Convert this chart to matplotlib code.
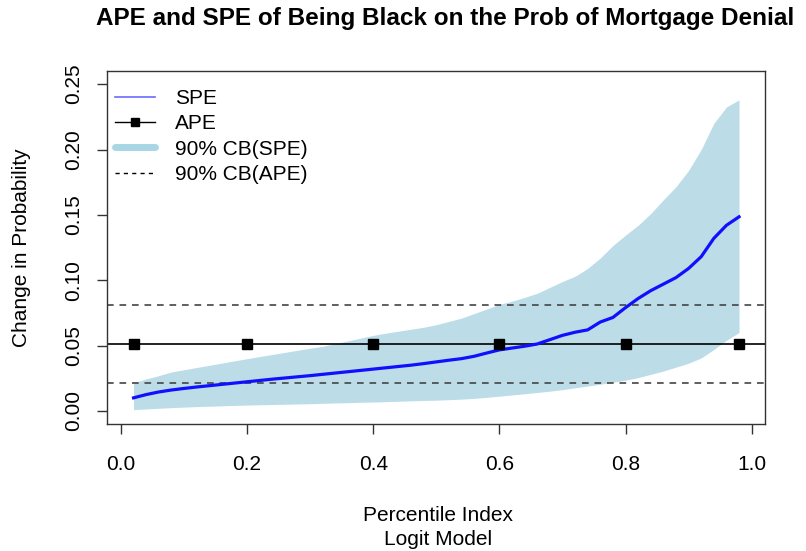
import matplotlib
matplotlib.use('Agg')
import matplotlib.pyplot as plt
from matplotlib.lines import Line2D
import numpy as np

plt.rcParams['font.family'] = ['Liberation Sans', 'DejaVu Sans']

# percentile index grid
pct = np.round(np.arange(0.02, 0.981, 0.02), 2)

spe = [0.0100, 0.0125, 0.0145, 0.0160, 0.0172, 0.0183, 0.0193, 0.0203, 0.0213, 0.0223,
       0.0233, 0.0243, 0.0252, 0.0261, 0.0270, 0.0280, 0.0290, 0.0300, 0.0310, 0.0320,
       0.0330, 0.0340, 0.0350, 0.0362, 0.0375, 0.0388, 0.0400, 0.0418, 0.0443, 0.0467,
       0.0481, 0.0495, 0.0512, 0.0545, 0.0578, 0.0602, 0.0620, 0.0680, 0.0715, 0.0790,
       0.0860, 0.0920, 0.0970, 0.1020, 0.1090, 0.1180, 0.1320, 0.1420, 0.1485]

spe_hi = [0.0215, 0.0245, 0.0270, 0.0298, 0.0315, 0.0332, 0.0349, 0.0366, 0.0383, 0.0400,
          0.0416, 0.0432, 0.0448, 0.0464, 0.0480, 0.0494, 0.0515, 0.0536, 0.0557, 0.0578,
          0.0595, 0.0610, 0.0625, 0.0640, 0.0660, 0.0685, 0.0710, 0.0745, 0.0780, 0.0815,
          0.0840, 0.0868, 0.0900, 0.0945, 0.0990, 0.1030, 0.1090, 0.1170, 0.1265, 0.1345,
          0.1420, 0.1510, 0.1615, 0.1715, 0.1840, 0.2000, 0.2200, 0.2325, 0.2380]

spe_lo = [0.0010, 0.0015, 0.0020, 0.0025, 0.0029, 0.0033, 0.0036, 0.0039, 0.0042, 0.0045,
          0.0047, 0.0049, 0.0051, 0.0053, 0.0055, 0.0058, 0.0061, 0.0063, 0.0066, 0.0068,
          0.0071, 0.0074, 0.0077, 0.0080, 0.0082, 0.0086, 0.0090, 0.0096, 0.0104, 0.0113,
          0.0122, 0.0131, 0.0141, 0.0151, 0.0163, 0.0177, 0.0190, 0.0204, 0.0219, 0.0235,
          0.0255, 0.0280, 0.0305, 0.0335, 0.0365, 0.0405, 0.0470, 0.0540, 0.0600]

ape_x = [0.02, 0.2, 0.4, 0.6, 0.8, 0.98]
ape = 0.051
ape_lo = 0.021
ape_hi = 0.081

fig = plt.figure(figsize=(8.06, 5.51), dpi=100)
ax = fig.add_axes([0.1328, 0.2305, 0.8162, 0.6405])

ax.fill_between(pct, spe_lo, spe_hi, color='#bcdde8', lw=0, zorder=1)
ax.axhline(ape, color='black', lw=1.2, zorder=2)
ax.plot(ape_x, [ape] * len(ape_x), 's', color='black', ms=7, zorder=4)
ax.axhline(ape_lo, color='#444444', lw=1.2, ls=(0, (4, 3.5)), zorder=2)
ax.axhline(ape_hi, color='#444444', lw=1.2, ls=(0, (4, 3.5)), zorder=2)
ax.plot(pct, spe, color='#1010ff', lw=2.3, zorder=3)

ax.set_xlim(-0.022, 1.021)
ax.set_ylim(-0.01, 0.26)
ax.set_xticks([0.0, 0.2, 0.4, 0.6, 0.8, 1.0])
ax.set_xticklabels(['0.0', '0.2', '0.4', '0.6', '0.8', '1.0'])
ax.set_yticks([0.0, 0.05, 0.10, 0.15, 0.20, 0.25])
ax.set_yticklabels(['0.00', '0.05', '0.10', '0.15', '0.20', '0.25'], rotation=90, va='center')
ax.tick_params(direction='out', length=7, width=1, labelsize=15, color='#333333')
ax.tick_params(axis='x', pad=15)
ax.tick_params(axis='y', pad=10)
for s in ax.spines.values():
    s.set_color('#333333')
    s.set_linewidth(1)

ax.set_ylabel('Change in Probability', fontsize=15, labelpad=24)
fig.text(0.543, 0.065, 'Percentile Index', ha='center', va='center', fontsize=15)
fig.text(0.543, 0.020, 'Logit Model', ha='center', va='center', fontsize=15)
fig.text(0.552, 0.967, 'APE and SPE of Being Black on the Prob of Mortgage Denial',
         ha='center', va='center', fontsize=17.5, fontweight='bold')

handles = [
    Line2D([], [], color='#6b6bff', lw=1.2),
    Line2D([], [], color='black', lw=1, marker='s', ms=6),
    Line2D([], [], color='#a9d6e5', lw=5, solid_capstyle='round'),
    Line2D([], [], color='black', lw=1, ls=(0, (3, 3))),
]
labels = ['SPE', 'APE', '90% CB(SPE)', '90% CB(APE)']
ax.legend(handles, labels, loc='upper left', frameon=False, fontsize=15,
          handlelength=1.9, handletextpad=0.95, labelspacing=0.3,
          bbox_to_anchor=(-0.016, 1.002))

fig.savefig('out.png', dpi=100)
